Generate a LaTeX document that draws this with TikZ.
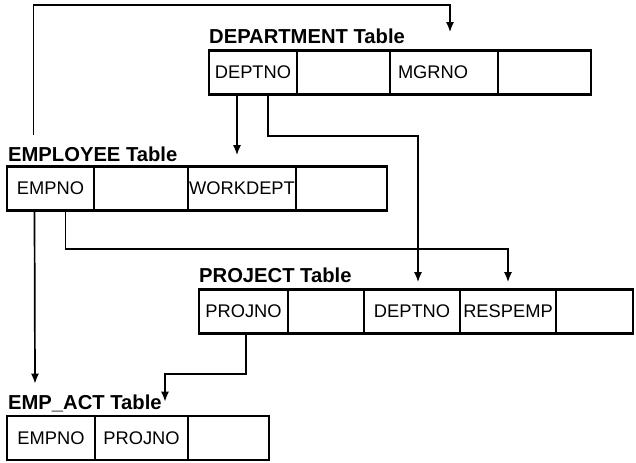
\documentclass[tikz,border=0pt]{standalone}
\usepackage{fontspec}
\setmainfont{Liberation Sans}
\usetikzlibrary{arrows.meta}
\tikzset{
  cell/.style={draw,line width=2.6bp,minimum height=44bp,inner sep=0pt,font=\fontsize{18.3bp}{20bp}\selectfont},
  tabletitle/.style={anchor=base west,inner sep=0pt,font=\bfseries\fontsize{20.2bp}{23bp}\selectfont},
  link/.style={black,line width=1.7bp,->},
}
\begin{document}
\begin{tikzpicture}[>={Latex[length=10bp,width=8bp]}]
\useasboundingbox (0bp,0bp) rectangle (636bp,463bp);
%%
\node (title_dept) at (209bp,419bp) [tabletitle] {DEPARTMENT Table};
  \node (dept_0) at (253bp,390.5bp) [cell,minimum width=88bp] {DEPTNO};
  \node (dept_1) at (343.5bp,390.5bp) [cell,minimum width=93bp] {};
  \node (dept_2) at (444bp,390.5bp) [cell,minimum width=108bp,text width=92bp,align=left] {MGRNO};
  \node (dept_3) at (544.5bp,390.5bp) [cell,minimum width=93bp] {};
%
\node (title_emp) at (8bp,301bp) [tabletitle] {EMPLOYEE Table};
  \node (emp_0) at (50.5bp,274.5bp) [cell,minimum width=87bp] {EMPNO};
  \node (emp_1) at (141bp,274.5bp) [cell,minimum width=94bp] {};
  \node (emp_2) at (242bp,274.5bp) [cell,minimum width=108bp] {WORKDEPT};
  \node (emp_3) at (341.5bp,274.5bp) [cell,minimum width=91bp] {};
%
\node (title_proj) at (199bp,180bp) [tabletitle] {PROJECT Table};
  \node (proj_0) at (243.5bp,151.5bp) [cell,minimum width=89bp] {PROJNO};
  \node (proj_1) at (326bp,151.5bp) [cell,minimum width=76bp] {};
  \node (proj_2) at (412bp,151.5bp) [cell,minimum width=96bp] {DEPTNO};
  \node (proj_3) at (508bp,151.5bp) [cell,minimum width=96bp] {RESPEMP};
  \node (proj_4) at (594.5bp,151.5bp) [cell,minimum width=77bp] {};
%
\node (title_empact) at (8bp,53bp) [tabletitle] {EMP\_ACT Table};
  \node (empact_0) at (51bp,25bp) [cell,minimum width=88bp] {EMPNO};
  \node (empact_1) at (141.5bp,25bp) [cell,minimum width=93bp] {PROJNO};
  \node (empact_2) at (228.5bp,25bp) [cell,minimum width=81bp] {};
%% foreign keys
  \draw [link] ([xshift=-17bp,yshift=30bp]emp_0.north) -- ++(0bp,130bp) -| ([xshift=6bp,yshift=17bp]dept_2.north);
  \draw [link] ([xshift=-16bp]dept_0.south) -- ([xshift=-5bp,yshift=10bp]emp_2.north);
  \draw [link] ([xshift=15bp]dept_0.south) -- ++(0bp,-40bp) -| ([xshift=6bp,yshift=6bp]proj_2.north);
  \draw [link] ([xshift=-16bp]emp_0.south) -- ([xshift=-16bp,yshift=31bp]empact_0.north);
  \draw [link] ([xshift=15bp]emp_0.south) -- ++(0bp,-37bp) -| ([yshift=6bp]proj_3.north);
  \draw [link] ([xshift=2.5bp]proj_0.south) -- ++(0bp,-39bp) -| ([xshift=23.5bp,yshift=13bp]empact_1.north);
%
\end{tikzpicture}
\end{document}
